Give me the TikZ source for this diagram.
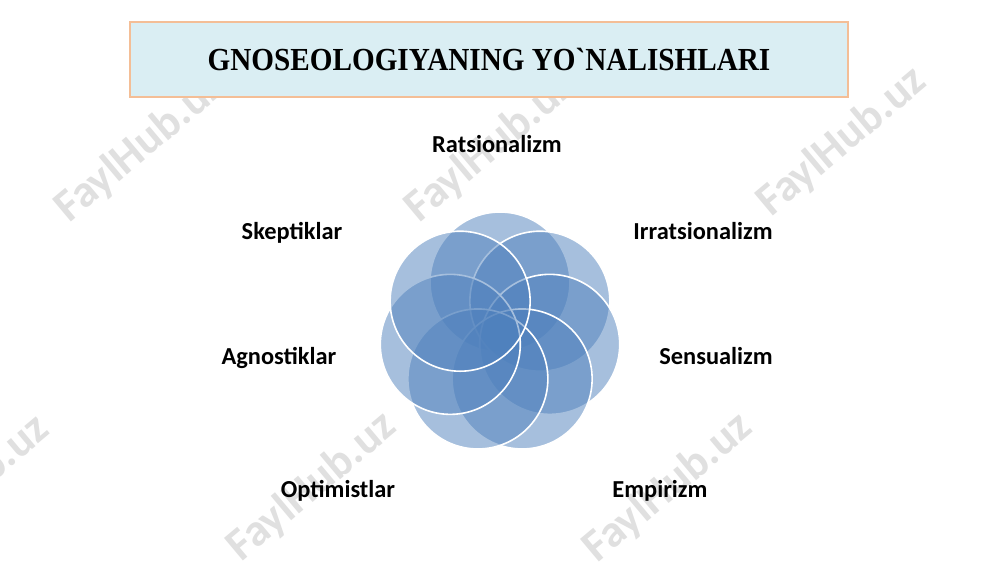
\documentclass[tikz,border=0pt]{standalone}
\usepackage{fontspec}
\setmainfont{Carlito}
\newfontfamily\titlefont{Liberation Serif}
\definecolor{petal}{RGB}{79,129,189}
\definecolor{titlefill}{RGB}{218,238,243}
\definecolor{titleline}{RGB}{244,190,150}
\definecolor{wmark}{RGB}{224,224,224}
\begin{document}
\begin{tikzpicture}[x=0.75pt,y=-0.75pt,
  petalstyle/.style={circle,minimum size=140*0.75pt,inner sep=0pt,fill=petal,fill opacity=0.5,draw=white,draw opacity=1,line width=1.2pt},
  lbl/.style={font=\fontsize{18.3}{20}\selectfont\bfseries,text=black,inner sep=0pt,anchor=base},
  wm/.style={font=\fontsize{34}{36}\selectfont\bfseries,text=wmark,rotate=40,inner sep=0pt}]
\useasboundingbox (0,0) rectangle (1000,562);
\fill[white] (0,0) rectangle (1000,562);
% watermarks
\node[wm] (w1) at (140,148) {FaylHub.uz};
\node[wm] (w2) at (490,148) {FaylHub.uz};
\node[wm] (w3) at (842,142) {FaylHub.uz};
\node[wm] (w4) at (-35,490) {FaylHub.uz};
\node[wm] (w5) at (312,487) {FaylHub.uz};
\node[wm] (w6) at (668,488) {FaylHub.uz};
% title
\node[draw=titleline,fill=titlefill,line width=0.8pt,minimum width=718*0.75pt,minimum height=75*0.75pt,inner sep=0pt,
  font=\titlefont\fontsize{21.9}{24}\selectfont\bfseries] (title) at (489,59.5) {\scalebox{1}[1.1]{GNOSEOLOGIYANING YO`NALISHLARI}};
% petals
\foreach \k in {0,...,6}{
  \node[petalstyle] (p\k) at ({500+51*sin(\k*360/7)},{333-51*cos(\k*360/7)}) {};
}
% labels
\node[lbl] (l0) at (497,152) {Ratsionalizm};
\node[lbl] (l1) at (703,239) {Irratsionalizm};
\node[lbl] (l2) at (716,364) {Sensualizm};
\node[lbl] (l3) at (660,497) {Empirizm};
\node[lbl] (l4) at (338,497) {Optimistlar};
\node[lbl] (l5) at (279,364) {Agnostiklar};
\node[lbl] (l6) at (292,239) {Skeptiklar};
\end{tikzpicture}
\end{document}
